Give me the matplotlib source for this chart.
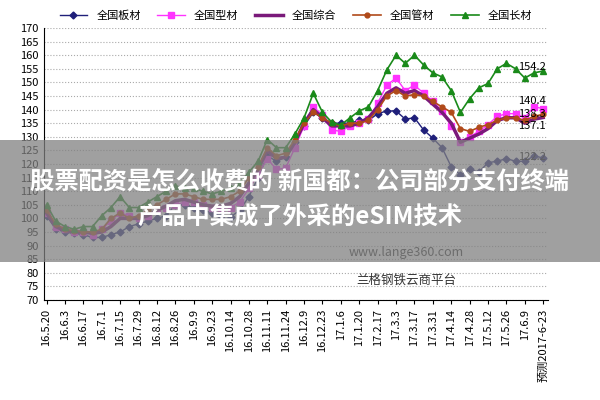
import matplotlib
matplotlib.use("Agg")
import matplotlib.pyplot as plt
from matplotlib.patches import Rectangle

plt.rcParams['font.family'] = ['Noto Sans CJK SC', 'DejaVu Sans']

tick_labels = ["16.5.20","16.6.3","16.6.17","16.7.1","16.7.15","16.7.29","16.8.12","16.8.26",
               "16.9.9","16.9.23","16.10.14","16.10.28","16.11.11","16.11.24","16.12.9","16.12.23",
               "17.1.6","17.1.20","17.2.17","17.3.3","17.3.17","17.3.31","17.4.14","17.4.28",
               "17.5.12","17.5.26","17.6.9","预测2017-6-23"]

banc = [101,96,95,94.5,94,93,93,94,95,97,98,99,100,101,105,105,104,103,102,101,100.5,103,108,115,123,121,122.5,128,134,
        139,137,135,135,135,136,136,138.5,139.5,139.5,136.5,137,132.5,129.5,126,119,116,118,117,120.5,121,122,121,121,123,122.2]
xing = [102,97,96,95,95,94,96,99,102,101,100,101,103,104,105,106,106,105,104,104,104,106,111,116,122,118,118.5,126,134,
        141,138,132.5,132,134,135,136.5,142.4,149,151.6,147,149,146,143,139.5,134,128,130,132,134.5,137.5,138.5,138.5,137,141,140.4]
zonghe = [102,97,95.5,95,95,94.5,95,97,100,100,100,101,103,104.5,106.5,107,106,105,104.5,104.5,105.5,108,113,118,125,122,122.5,128,135,
          140,137,134,134,134,135,137,141,146,148,146,147,145,142,139,135,128,129.5,131,133,136,137,137,135,136.5,137.1]
guan = [103,98,96,95.5,95,95,96,100,102,100,101,103,105,107,109,109,108,107,107,107,108,110,115,119,126,123,124,129,135,
        139,137,135,134,135,135,136,140,145,147,145,145.5,145,143,141,139,133,132,133.5,134.5,136,137,137,136,137.5,138.3]
chang = [105,99,97,96,97,97,101,104,108,104,104,106,108,110,112,111,111,110,109,110,111,113,117,121,129,126,126,131,137,
         146,139,135.4,134.3,137,139.5,141,147,154.6,160,157,160,156.4,153.5,152,147,139,144,148,149.6,155,157,155,151.6,153.5,154.2]

x = list(range(len(banc)))

fig = plt.figure(figsize=(6, 4), dpi=100)
ax = fig.add_axes([0.073, 0.25, 0.84, 0.68])

ax.plot(x, banc, color='#1f1f7a', marker='D', ms=3.5, lw=1, label='全国板材')
ax.plot(x, xing, color='#ff33ff', marker='s', ms=4, lw=1, label='全国型材')
ax.plot(x, zonghe, color='#7a1a7a', lw=2.5, label='全国综合')
ax.plot(x, guan, color='#b04a1a', marker='o', ms=3.5, lw=1.2, label='全国管材')
ax.plot(x, chang, color='#1a8a1a', marker='^', ms=4.5, lw=1.2, label='全国长材')

ax.set_ylim(70, 170)
ax.set_yticks(range(70, 171, 5))
ax.set_xlim(-0.3, 54.5)
ax.set_xticks(range(0, 55, 2))
ax.set_xticklabels(tick_labels, rotation=90, fontsize=8)
ax.tick_params(axis='y', labelsize=8, length=0)
ax.tick_params(axis='x', length=3)
ax.grid(axis='y', linestyle=':', color='#aaaaaa')
for s in ['top', 'right']:
    ax.spines[s].set_visible(False)

for val, y in [(154.2, 155.5), (140.4, 143.0), (138.3, 138.5), (137.1, 134.0)]:
    ax.text(54.3, y, f"{val}", fontsize=8, ha='right', va='center')
ax.text(54.3, 122.5, "122.2", fontsize=8, ha='right', va='center')

ax.legend(loc='lower center', bbox_to_anchor=(0.5, 1.0), ncol=5, frameon=False,
          fontsize=8, handlelength=2.5, columnspacing=1.5, borderaxespad=0.2)

ax.text(0.72, 0.16, "www.lange360.com", transform=ax.transAxes, fontsize=9, ha='center', color='#333333')
ax.text(0.72, 0.06, "兰格钢铁云商平台", transform=ax.transAxes, fontsize=9, ha='center', color='#333333')

fig.patches.append(Rectangle((0, 0.345), 1, 0.305, transform=fig.transFigure,
                             facecolor='#808080', alpha=0.75, zorder=10))
fig.text(0.5, 0.543, "股票配资是怎么收费的 新国都：公司部分支付终端", fontsize=17.5, fontweight='bold',
         color='white', ha='center', va='center', zorder=11)
fig.text(0.5, 0.455, "产品中集成了外采的eSIM技术", fontsize=17.5, fontweight='bold',
         color='white', ha='center', va='center', zorder=11)

fig.savefig("out.png", dpi=100)
